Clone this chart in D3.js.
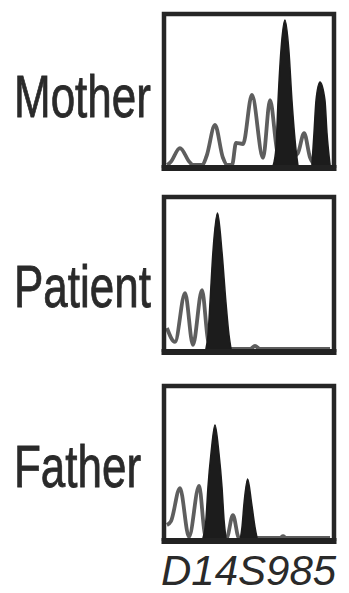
<!DOCTYPE html>
<html>
<head>
<meta charset="utf-8">
<script src="https://cdn.jsdelivr.net/npm/d3@7"></script>
<style>
  html, body { margin: 0; padding: 0; background: #fff; }
  svg { display: block; }
</style>
</head>
<body>
<svg id="chart" width="349" height="593"></svg>
<script>
// ---------- DATA (relative size units 0-100, relative intensity 0-100) ----------
const panelNames = ["Mother", "Patient", "Father"];
const markerName = "D14S985";

// Grey (unassigned) trace for each individual
const motherTraceX  = [2.5, 4.5, 9.9, 15.5, 17.5, 23, 25.5, 30.4, 35, 37.5, 40.4, 42.7, 46.8, 52, 58.5, 62.6, 67, 71, 78.9, 82.5, 86, 88.3, 97.7];
const motherTraceY  = [0, 2, 11.3, 2, 0, 0, 6, 26.7, 5, 0, 0, 14.7, 14, 46.7, 4.7, 43.3, 8, 2, 8, 21.3, 5, 1, 0];
const patientTraceX = [2.3, 7.0, 12.9, 17.5, 22.8, 26.3, 28.7, 39.2, 51, 53.8, 56.7, 97.7];
const patientTraceY = [14, 4.7, 37.3, 2.7, 39.3, 6, 0, 0, 0, 2, 0, 0];
const fatherTraceX  = [2.3, 4.7, 9.9, 15.2, 21.1, 24.6, 26.3, 37.2, 40.9, 44.4, 45.6, 68.4, 70.2, 72, 97.7];
const fatherTraceY  = [8.7, 11.3, 33.3, 0.7, 34.7, 2, 0, 0, 15.3, 0, 0, 0, 1.3, 0, 0];

// Black (allele) peaks: x positions and heights along each outline
const motherPeak1X  = [64.5, 66.1, 67.3, 69.0, 71.3, 73.6, 75.4, 77.8, 78.9];
const motherPeak1Y  = [0, 12, 43.3, 76.7, 96.7, 76.7, 43.3, 10, 0];
const motherPeak2X  = [87.1, 88.3, 89.5, 91.8, 94.7, 95.9, 97.7];
const motherPeak2Y  = [0, 21.3, 43.3, 55.3, 43.3, 21.3, 0];
const patientPeak1X = [25.1, 26.3, 27.5, 29.2, 31.9, 34.5, 36.8, 38.6, 39.8];
const patientPeak1Y = [0, 9.3, 31.3, 64.7, 90.7, 64.7, 31.3, 9.3, 0];
const fatherPeak1X  = [23.4, 25.1, 26.3, 28.1, 30.4, 32.7, 34.5, 35.7, 36.8];
const fatherPeak1Y  = [0, 12, 34, 56.7, 75.3, 56.7, 34, 12, 0];
const fatherPeak2X  = [45.3, 46.2, 47.4, 49.5, 51.8, 53.8, 55.0];
const fatherPeak2Y  = [0, 7.3, 23.3, 39.3, 23.3, 7.3, 0];

// ---------- LAYOUT ----------
const boxLeft = 164, boxRight = 334;
const panelTops    = [14, 197, 386];
const panelBottoms = [168, 352, 541];
const labelBaselines = [117, 307, 487];

const zip = (xs, ys) => xs.map((x, i) => ({ x, y: ys[i] }));
const panels = [
  { trace: zip(motherTraceX, motherTraceY),  peaks: [zip(motherPeak1X, motherPeak1Y), zip(motherPeak2X, motherPeak2Y)] },
  { trace: zip(patientTraceX, patientTraceY), peaks: [zip(patientPeak1X, patientPeak1Y)] },
  { trace: zip(fatherTraceX, fatherTraceY),  peaks: [zip(fatherPeak1X, fatherPeak1Y), zip(fatherPeak2X, fatherPeak2Y)] }
];

const svg = d3.select("#chart");
const x = d3.scaleLinear().domain([0, 100]).range([163, 334]);

panels.forEach((p, i) => {
  const top = panelTops[i], bottom = panelBottoms[i];
  const baseline = bottom - 3;
  const y = d3.scaleLinear().domain([0, 100]).range([baseline, baseline - 150]);
  const g = svg.append("g");

  const line = d3.line().x(d => x(d.x)).y(d => y(d.y)).curve(d3.curveMonotoneX);
  const area = d3.area().x(d => x(d.x)).y0(y(0)).y1(d => y(d.y)).curve(d3.curveMonotoneX);

  g.append("path")
    .datum(p.trace)
    .attr("d", line)
    .attr("fill", "none")
    .attr("stroke", "#5e5e5e")
    .attr("stroke-width", 3.8)
    .attr("stroke-linejoin", "round");

  p.peaks.forEach(pk => {
    g.append("path")
      .datum(pk)
      .attr("d", area)
      .attr("fill", "#1c1c1c")
      .attr("stroke", "#1c1c1c")
      .attr("stroke-width", 1.5);
  });

  // frame (left, top, right)
  g.append("path")
    .attr("d", `M${boxLeft},${bottom} V${top} H${boxRight} V${bottom}`)
    .attr("fill", "none")
    .attr("stroke", "#262626")
    .attr("stroke-width", 4.5);
  // baseline axis
  g.append("line")
    .attr("x1", boxLeft - 2.5).attr("x2", boxRight + 2.5)
    .attr("y1", bottom).attr("y2", bottom)
    .attr("stroke", "#222")
    .attr("stroke-width", 6);

  svg.append("text")
    .attr("transform", `translate(14,${labelBaselines[i]}) scale(1,1.33)`)
    .attr("font-family", "Liberation Sans, Arial, sans-serif")
    .attr("font-size", 44)
    .attr("fill", "#2a2a2a")
    .attr("stroke", "#2a2a2a")
    .attr("stroke-width", 0.6)
    .text(panelNames[i]);
});

svg.append("text")
  .attr("x", 161).attr("y", 585)
  .attr("font-family", "Liberation Sans, Arial, sans-serif")
  .attr("font-style", "italic")
  .attr("font-size", 42)
  .attr("fill", "#2a2a2a")
  .text(markerName);
</script>
</body>
</html>
